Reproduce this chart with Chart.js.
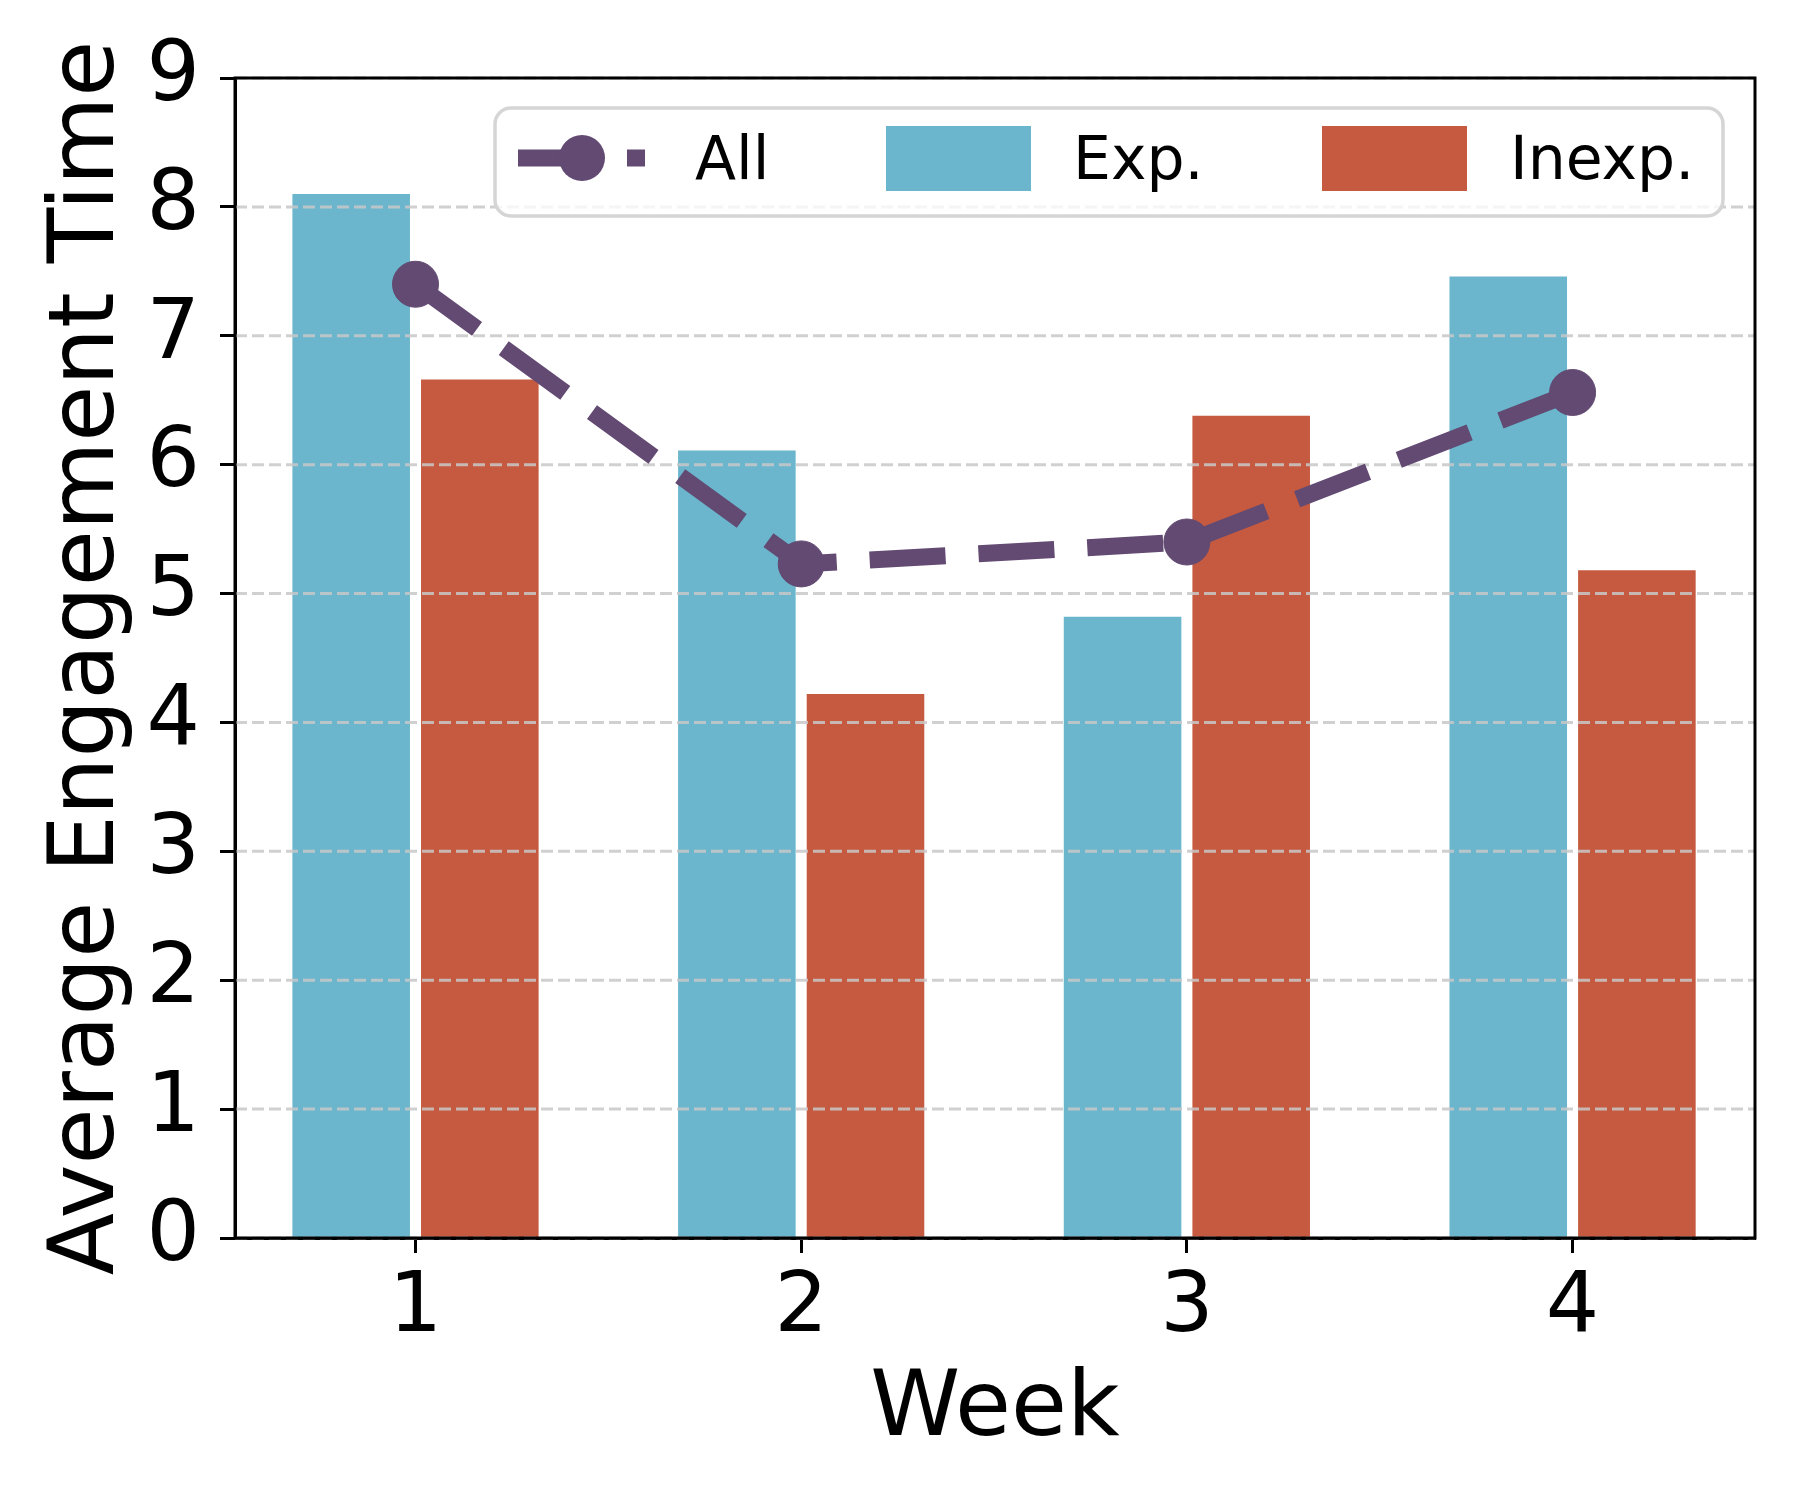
<!DOCTYPE html>
<html>
<head>
<meta charset="utf-8">
<title>Average Engagement Time by Week</title>
<script src="https://cdn.jsdelivr.net/npm/chart.js@4.4.0/dist/chart.umd.min.js"></script>
<style>
  html, body { margin: 0; padding: 0; background: #fff; }
  #wrap { width: 1800px; height: 1500px; }
</style>
</head>
<body>
<div id="wrap"><canvas id="engagementChart" width="1800" height="1500"></canvas></div>
<script>
const weeks = [1, 2, 3, 4];
const allUsers = [7.40, 5.23, 5.40, 6.56];
const experienced = [8.10, 6.11, 4.82, 7.46];
const inexperienced = [6.66, 4.22, 6.38, 5.18];
const yTicks = [0, 1, 2, 3, 4, 5, 6, 7, 8, 9];

const FONT = "'DejaVu Sans', 'Liberation Sans', sans-serif";
const PURPLE = '#624A72';
const BLUE = '#6BB6CD';
const RED = '#C55A40';

const toPoints = values => weeks.map((w, i) => ({ x: w, y: values[i] }));

// dashed grid: above the bars, below the line
const gridOverBars = {
  id: 'gridOverBars',
  beforeDatasetDraw(chart, args) {
    if (args.meta.type !== 'line') return;
    const { ctx, chartArea, scales: { y } } = chart;
    ctx.save();
    ctx.strokeStyle = 'rgba(200,200,200,0.85)';
    ctx.lineWidth = 3;
    ctx.setLineDash([12, 5]);
    yTicks.forEach(v => {
      const py = y.getPixelForValue(v);
      ctx.beginPath();
      ctx.moveTo(chartArea.left, py);
      ctx.lineTo(chartArea.right, py);
      ctx.stroke();
    });
    ctx.restore();
  }
};

// full box of spines on top of the bars
const frame = {
  id: 'frame',
  afterDatasetsDraw(chart) {
    const { ctx, chartArea: a } = chart;
    ctx.save();
    ctx.strokeStyle = '#000';
    ctx.lineWidth = 3;
    ctx.strokeRect(a.left, a.top, a.right - a.left, a.bottom - a.top);
    ctx.restore();
  }
};

function roundedRect(ctx, x, y, w, h, r) {
  ctx.beginPath();
  ctx.moveTo(x + r, y);
  ctx.arcTo(x + w, y, x + w, y + h, r);
  ctx.arcTo(x + w, y + h, x, y + h, r);
  ctx.arcTo(x, y + h, x, y, r);
  ctx.arcTo(x, y, x + w, y, r);
  ctx.closePath();
}

// matplotlib-like legend in the upper right of the axes
const legendBox = {
  id: 'legendBox',
  afterDraw(chart) {
    const { ctx, chartArea: a } = chart;
    const [lineSet, expSet, inexpSet] = chart.data.datasets;
    const right = a.right - 32, top = a.top + 30;
    const left = right - 1228, cy = top + 50;
    ctx.save();
    roundedRect(ctx, left, top, 1228, 108, 16);
    ctx.fillStyle = 'rgba(255,255,255,0.8)';
    ctx.fill();
    ctx.lineWidth = 3.5;
    ctx.strokeStyle = '#d5d5d5';
    ctx.stroke();

    ctx.strokeStyle = lineSet.borderColor;
    ctx.lineWidth = lineSet.borderWidth;
    ctx.setLineDash(lineSet.borderDash);
    ctx.beginPath();
    ctx.moveTo(left + 23, cy);
    ctx.lineTo(left + 150, cy);
    ctx.stroke();
    ctx.setLineDash([]);
    ctx.beginPath();
    ctx.arc(left + 87, cy, lineSet.pointRadius, 0, Math.PI * 2);
    ctx.fillStyle = lineSet.pointBackgroundColor;
    ctx.fill();

    ctx.fillStyle = expSet.backgroundColor;
    ctx.fillRect(left + 391, cy - 32, 145, 65);
    ctx.fillStyle = inexpSet.backgroundColor;
    ctx.fillRect(left + 827, cy - 32, 145, 65);

    ctx.fillStyle = '#000';
    ctx.font = '60px ' + FONT;
    ctx.textBaseline = 'alphabetic';
    ctx.fillText(lineSet.label, left + 200, cy + 21);
    ctx.fillText(expSet.label, left + 578, cy + 21);
    ctx.fillText(inexpSet.label, left + 1015, cy + 21);
    ctx.restore();
  }
};

Chart.defaults.font.family = FONT;
Chart.defaults.color = '#000';

const ctx = document.getElementById('engagementChart').getContext('2d');
const engagementChart = new Chart(ctx, {
  type: 'bar',
  data: {
    datasets: [{
      type: 'line',
      label: 'All',
      data: toPoints(allUsers),
      borderColor: PURPLE,
      borderWidth: 17,
      borderDash: [76, 33],
      borderJoinStyle: 'round',
      pointRadius: 23,
      pointBackgroundColor: PURPLE,
      pointBorderColor: PURPLE,
      pointBorderWidth: 1,
      fill: false,
      tension: 0,
      order: 0
    }, {
      label: 'Exp.',
      data: toPoints(experienced),
      backgroundColor: BLUE,
      borderWidth: 0,
      categoryPercentage: 0.667,
      barPercentage: 0.914,
      order: 1
    }, {
      label: 'Inexp.',
      data: toPoints(inexperienced),
      backgroundColor: RED,
      borderWidth: 0,
      categoryPercentage: 0.667,
      barPercentage: 0.914,
      order: 1
    }]
  },
  options: {
    responsive: false,
    devicePixelRatio: 1,
    animation: false,
    layout: { padding: { top: 78, right: 45, left: 0, bottom: 0 } },
    plugins: {
      legend: { display: false },
      tooltip: { enabled: false }
    },
    scales: {
      x: {
        type: 'linear',
        min: 0.532,
        max: 4.473,
        offset: false,
        afterBuildTicks: s => { s.ticks = weeks.map(v => ({ value: v })); },
        afterFit: s => { s.height = 262; },
        grid: { drawOnChartArea: false, offset: false, tickLength: 15, tickWidth: 3, tickColor: '#000' },
        border: { color: '#000', width: 3 },
        ticks: { color: '#000', font: { size: 84 }, padding: 6, maxRotation: 0, autoSkip: false },
        title: {
          display: true,
          text: 'Week',
          color: '#000',
          font: { size: 91 },
          padding: { top: 0, bottom: 34 }
        }
      },
      y: {
        type: 'linear',
        min: 0,
        max: 9,
        afterBuildTicks: s => { s.ticks = yTicks.map(v => ({ value: v })); },
        afterFit: s => { s.width = 235; },
        grid: { drawOnChartArea: false, tickLength: 15, tickWidth: 3, tickColor: '#000' },
        border: { color: '#000', width: 3 },
        ticks: { color: '#000', font: { size: 84 }, padding: 20 },
        title: {
          display: true,
          text: 'Average Engagement Time',
          color: '#000',
          font: { size: 91 },
          padding: { top: 35, bottom: 0 }
        }
      }
    }
  },
  plugins: [gridOverBars, frame, legendBox]
});
</script>
</body>
</html>
